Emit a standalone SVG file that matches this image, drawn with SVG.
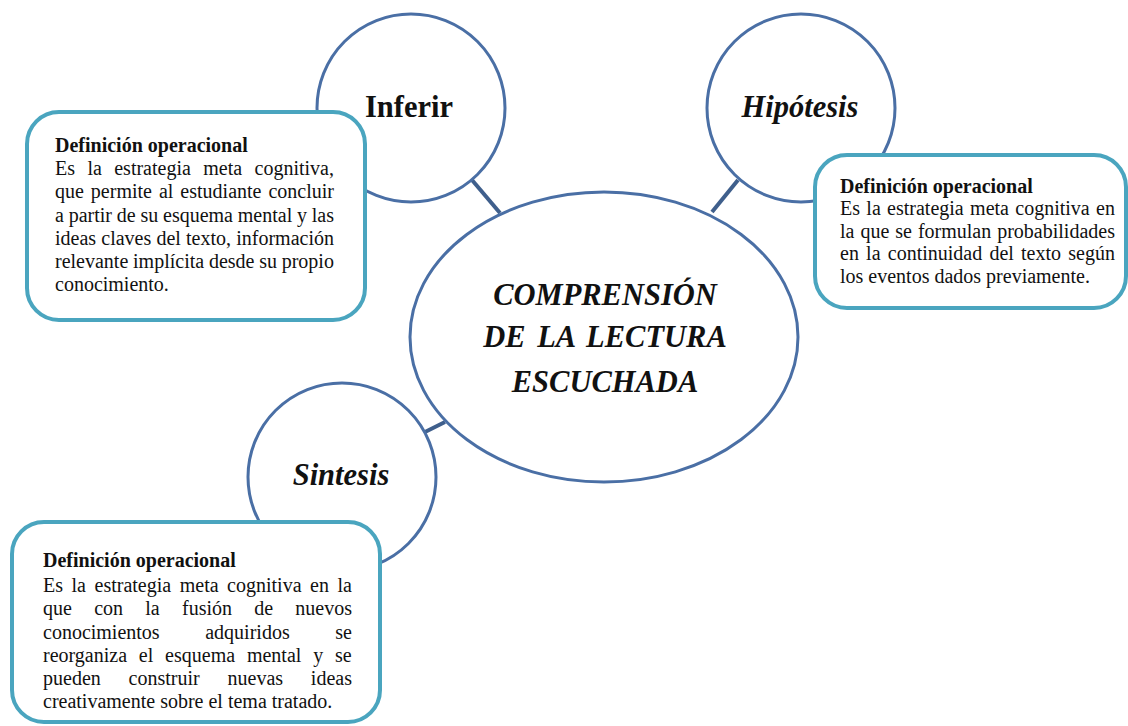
<svg xmlns="http://www.w3.org/2000/svg" width="1128" height="726" viewBox="0 0 1128 726">
<style>
.circ{fill:#fff;stroke:#4a6fa5;stroke-width:3}
.box{fill:#fff;stroke:#4aa5bf;stroke-width:4}
.conn{stroke:#3f5f8c;stroke-width:4;fill:none}
.lbl{font-family:"Liberation Serif","Times New Roman",serif;font-size:30.5px;font-weight:bold;fill:#111;text-anchor:middle}
.it{font-style:italic}
.hd{font-family:"Liberation Serif","Times New Roman",serif;font-size:20px;font-weight:bold;fill:#111}
.tx{font-family:"Liberation Serif","Times New Roman",serif;font-size:20px;fill:#111}
</style>
<rect width="1128" height="726" fill="#fff"/>
<g id="connectors">
<line class="conn" x1="472" y1="180" x2="500" y2="213"/>
<line class="conn" x1="738" y1="180" x2="712" y2="212"/>
<line class="conn" x1="425" y1="432" x2="445" y2="422"/>
</g>
<g id="center">
<ellipse class="circ" cx="604" cy="337" rx="194" ry="145"/>
<text class="lbl it" x="605" y="305">COMPRENSIÓN</text>
<text class="lbl it" x="605" y="347" word-spacing="4">DE LA LECTURA</text>
<text class="lbl it" x="605" y="392">ESCUCHADA</text>
</g>
<g id="inferir">
<circle class="circ" cx="411" cy="108" r="94"/>
<text class="lbl" x="409" y="117">Inferir</text>
</g>
<g id="hipotesis">
<circle class="circ" cx="801" cy="108" r="94"/>
<text class="lbl it" x="800" y="117">Hipótesis</text>
</g>
<g id="sintesis">
<circle class="circ" cx="342" cy="477" r="94"/>
<text class="lbl it" x="341" y="485">Sintesis</text>
</g>
<g id="def-inferir">
<rect class="box" x="27" y="112" width="338" height="208" rx="32"/>
<text class="hd" x="55" y="152">Definición operacional</text>
<text class="tx">
<tspan x="55" y="175.2" word-spacing="7.4">Es la estrategia meta cognitiva,</tspan>
<tspan x="55" y="198.4" word-spacing="1.99">que permite al estudiante concluir</tspan>
<tspan x="55" y="221.6" word-spacing="-0.21">a partir de su esquema mental y las</tspan>
<tspan x="55" y="244.8" word-spacing="0.18">ideas claves del texto, información</tspan>
<tspan x="55" y="268" word-spacing="-0.25">relevante implícita desde su propio</tspan>
<tspan x="55" y="291.2">conocimiento.</tspan>
</text>
</g>
<g id="def-hipotesis">
<rect class="box" x="815" y="155" width="311" height="153" rx="32"/>
<text class="hd" x="840" y="192.5">Definición operacional</text>
<text class="tx">
<tspan x="840" y="215.1" word-spacing="1.34">Es la estrategia meta cognitiva en</tspan>
<tspan x="840" y="237.7" word-spacing="0.98">la que se formulan probabilidades</tspan>
<tspan x="840" y="260.3" word-spacing="2.22">en la continuidad del texto según</tspan>
<tspan x="840" y="282.9">los eventos dados previamente.</tspan>
</text>
</g>
<g id="def-sintesis">
<rect class="box" x="12" y="522" width="368" height="200" rx="32"/>
<text class="hd" x="43" y="567">Definición operacional</text>
<text class="tx">
<tspan x="43" y="592" word-spacing="3.55">Es la estrategia meta cognitiva en la</tspan>
<tspan x="43" y="615" word-spacing="17.26">que con la fusión de nuevos</tspan>
<tspan x="43" y="638.5" word-spacing="40.6">conocimientos adquiridos se</tspan>
<tspan x="43" y="662" word-spacing="6.82">reorganiza el esquema mental y se</tspan>
<tspan x="43" y="685" word-spacing="22.83">pueden construir nuevas ideas</tspan>
<tspan x="43" y="708">creativamente sobre el tema tratado.</tspan>
</text>
</g>
</svg>
